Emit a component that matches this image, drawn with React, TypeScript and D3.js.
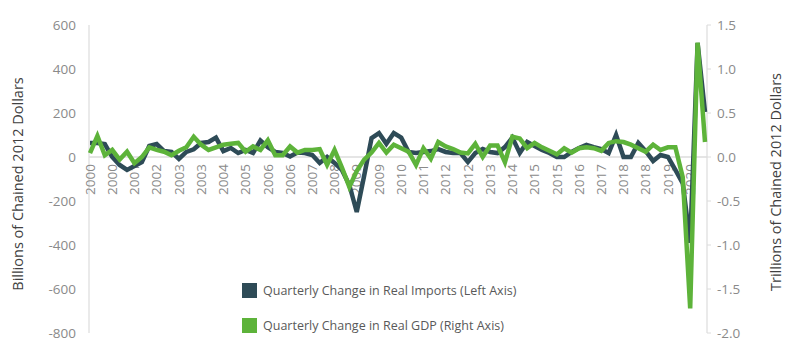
import React from 'react';
import * as d3 from 'd3';

// quarters 2000 Q1 .. 2020 Q4
const years = d3.range(2000, 2021);
const quarters = years.flatMap(y => [1, 2, 3, 4].map(q => `${y} Q${q}`));

// quarterly change in real imports, billions of chained 2012 dollars (left axis)
const imports = [
  64, 64, 59, 0, -36, -59, -41, -23, 50, 59, 27, 23, -9, 23, 35, 64,
  68, 88, 27, 41, 18, 32, 18, 75, 45, 23, 18, 2, 20, 18, 9, -27,
  0, -27, -59, -127, -250, -85, 86, 109, 60, 109, 88, 23, 18, 23, 27, 36,
  23, 18, 18, -23, 18, 36, 23, 18, 45, 88, 18, 68, 50, 32, 18, 0,
  0, 23, 41, 55, 45, 36, 18, 100, 0, 0, 64, 27, -18, 9, 0, -59,
  -120, -390, 518, 205,
];

// quarterly change in real GDP, trillions of chained 2012 dollars (right axis)
const gdp = [
  0.045, 0.24, 0.02, 0.08, -0.03, 0.06, -0.07, 0.0, 0.11, 0.08, 0.06, 0.02, 0.07, 0.11, 0.23, 0.14,
  0.08, 0.11, 0.14, 0.15, 0.16, 0.06, 0.12, 0.08, 0.19, 0.02, 0.02, 0.12, 0.05, 0.08, 0.08, 0.09,
  -0.09, 0.08, -0.12, -0.34, -0.16, -0.03, 0.05, 0.16, 0.05, 0.14, 0.1, 0.06, -0.09, 0.1, -0.02, 0.17,
  0.12, 0.09, 0.05, 0.04, 0.15, 0.0, 0.13, 0.13, -0.06, 0.23, 0.21, 0.1, 0.16, 0.11, 0.07, 0.03,
  0.1, 0.05, 0.1, 0.11, 0.1, 0.07, 0.16, 0.18, 0.17, 0.14, 0.1, 0.06, 0.14, 0.08, 0.11, 0.11,
  -0.23, -1.72, 1.3, 0.17,
];

const leftTicks = [600, 400, 200, 0, -200, -400, -600, -800];
const rightTicks = [1.5, 1.0, 0.5, 0.0, -0.5, -1.0, -1.5, -2.0];
// every third quarter gets a year label
const xTickLabels = [
  '2000', '2000', '2001', '2002', '2003', '2003', '2004', '2005', '2006', '2006',
  '2007', '2008', '2009', '2009', '2010', '2011', '2012', '2012', '2013', '2014',
  '2015', '2015', '2016', '2017', '2018', '2018', '2019', '2020',
];

const legendItems = [
  { label: 'Quarterly Change in Real Imports (Left Axis)', color: '#2e4b57' },
  { label: 'Quarterly Change in Real GDP (Right Axis)', color: '#5db33a' },
];

const W = 800;
const H = 359;
const FONT = "'Open Sans', sans-serif";

export default function App() {
  const x = d3.scalePoint<string>().domain(quarters).range([90, 705]);
  const yL = d3.scaleLinear().domain([-800, 600]).range([333, 25]);
  const yR = d3.scaleLinear().domain([-2, 1.5]).range([333, 25]);

  const lineL = d3.line<number>().x((_, i) => x(quarters[i])!).y(d => yL(d));
  const lineR = d3.line<number>().x((_, i) => x(quarters[i])!).y(d => yR(d));

  const plotLeft = 89;
  const plotRight = 707;
  const tickIdx = quarters.map((_, i) => i).filter(i => i % 3 === 0);

  return (
    <svg width={W} height={H} style={{ position: 'absolute', left: 0, top: 0, background: '#fff' }}>
      {/* axis lines */}
      <line x1={plotLeft} x2={plotLeft} y1={yL(600)} y2={yL(-800)} stroke="#e3e3e3" strokeWidth={1.5} />
      <line x1={plotRight} x2={plotRight} y1={yR(1.5)} y2={yR(-2)} stroke="#e3e3e3" strokeWidth={1.5} />
      <line x1={plotLeft} x2={plotRight} y1={yL(0)} y2={yL(0)} stroke="#dcdcdc" strokeWidth={1.5} />

      {/* left ticks */}
      {leftTicks.map(t => (
        <text key={t} x={76} y={yL(t)} dy="0.35em" textAnchor="end" fontFamily={FONT} fontSize={13.5} fill="#8a8a8a">
          {t}
        </text>
      ))}

      {/* right ticks */}
      {rightTicks.map(t => (
        <g key={t}>
          <line x1={plotRight} x2={plotRight + 4} y1={yR(t)} y2={yR(t)} stroke="#dcdcdc" strokeWidth={1} />
          <text x={717} y={yR(t)} dy="0.35em" textAnchor="start" fontFamily={FONT} fontSize={13.5} fill="#8a8a8a">
            {t.toFixed(1)}
          </text>
        </g>
      ))}

      {/* category labels */}
      {tickIdx.map((qi, k) => (
        <text
          key={qi}
          transform={`translate(${x(quarters[qi])},${yL(0) + 7}) rotate(-90)`}
          dy="0.35em"
          textAnchor="end"
          fontFamily={FONT}
          fontSize={13.5}
          fill="#8a8a8a"
        >
          {xTickLabels[k]}
        </text>
      ))}

      {/* axis titles */}
      <text transform={`translate(18,184) rotate(-90)`} dy="0.35em" textAnchor="middle" fontFamily={FONT} fontSize={14.5} fill="#404040">
        Billions of Chained 2012 Dollars
      </text>
      <text transform={`translate(776,182) rotate(-90)`} dy="0.35em" textAnchor="middle" fontFamily={FONT} fontSize={14.5} fill="#404040">
        Trillions of Chained 2012 Dollars
      </text>

      {/* series */}
      <path d={lineL(imports)!} fill="none" stroke={legendItems[0].color} strokeWidth={4.5} strokeLinejoin="miter" />
      <path d={lineR(gdp)!} fill="none" stroke={legendItems[1].color} strokeWidth={4.5} strokeLinejoin="miter" />

      {/* legend */}
      {legendItems.map((d, i) => (
        <g key={d.label} transform={`translate(242,${283 + i * 35})`}>
          <rect width={15} height={15} fill={d.color} />
          <text x={21} y={7.5} dy="0.35em" fontFamily={FONT} fontSize={12.5} fill="#595959">
            {d.label}
          </text>
        </g>
      ))}
    </svg>
  );
}
